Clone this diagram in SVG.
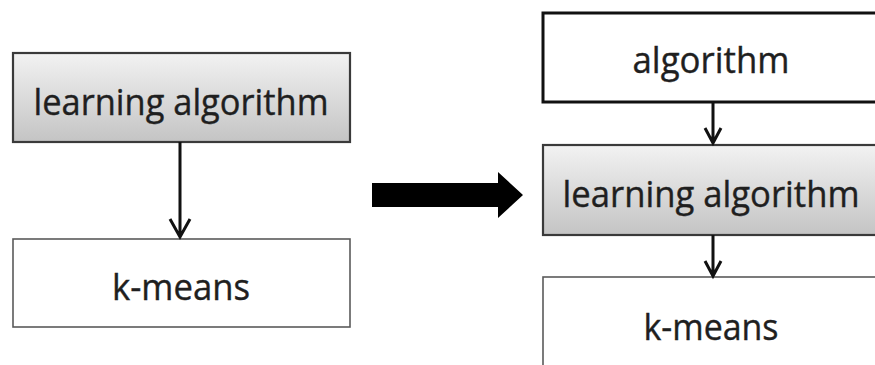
<svg xmlns="http://www.w3.org/2000/svg" width="875" height="365" viewBox="0 0 875 365">
  <defs>
    <linearGradient id="grayFill" x1="0" y1="0" x2="0" y2="1">
      <stop offset="0" stop-color="#f2f2f2"/>
      <stop offset="1" stop-color="#c4c4c4"/>
    </linearGradient>
    <style>
      .label { font-family: "Open Sans", "Noto Sans", sans-serif; font-size: 36px; fill: #1f1f1f; text-anchor: middle; stroke: #1f1f1f; stroke-width: 0.4; }
      .shaded { fill: url(#grayFill); stroke: #3a3a3a; stroke-width: 2.2; }
      .plain { fill: #ffffff; stroke: #5a5a5a; stroke-width: 1.6; }
      .bold { fill: #ffffff; stroke: #111111; stroke-width: 3; }
      .edge { fill: none; stroke: #111111; stroke-width: 3; stroke-linejoin: miter; }
    </style>
  </defs>
  <rect width="875" height="365" fill="#ffffff"/>

  <!-- left: original pipeline -->
  <g id="left-learning">
    <rect class="shaded" x="13" y="53" width="337" height="89"/>
    <text class="label" x="181" y="115" textLength="295" lengthAdjust="spacingAndGlyphs">learning algorithm</text>
  </g>
  <g id="left-kmeans">
    <rect class="plain" x="13" y="239" width="337" height="88"/>
    <text class="label" x="181" y="300" textLength="138" lengthAdjust="spacingAndGlyphs">k-means</text>
  </g>

  <!-- transformation arrow -->
  <g id="transform-arrow">
    <polygon points="372,183 498,183 498,172 523,195 498,218 498,207 372,207" fill="#000000"/>
  </g>

  <!-- right: extended pipeline -->
  <g id="right-algorithm">
    <rect class="bold" x="543" y="13" width="340" height="89"/>
    <text class="label" x="711" y="73" textLength="157" lengthAdjust="spacingAndGlyphs">algorithm</text>
  </g>
  <g id="right-learning">
    <rect class="shaded" x="543" y="145" width="340" height="90"/>
    <text class="label" x="711" y="207" textLength="297" lengthAdjust="spacingAndGlyphs">learning algorithm</text>
  </g>
  <g id="right-kmeans">
    <rect class="plain" x="543" y="277" width="340" height="100"/>
    <text class="label" x="711" y="340" textLength="135" lengthAdjust="spacingAndGlyphs">k-means</text>
  </g>

  <g id="connectors">
    <path class="edge" d="M180,142 V237 M170,219 L180,237 L190,219"/>
    <path class="edge" d="M713,102 V143 M705,128 L713,143 L721,128"/>
    <path class="edge" d="M713,235 V276 M705,261 L713,276 L721,261"/>
  </g>
</svg>
